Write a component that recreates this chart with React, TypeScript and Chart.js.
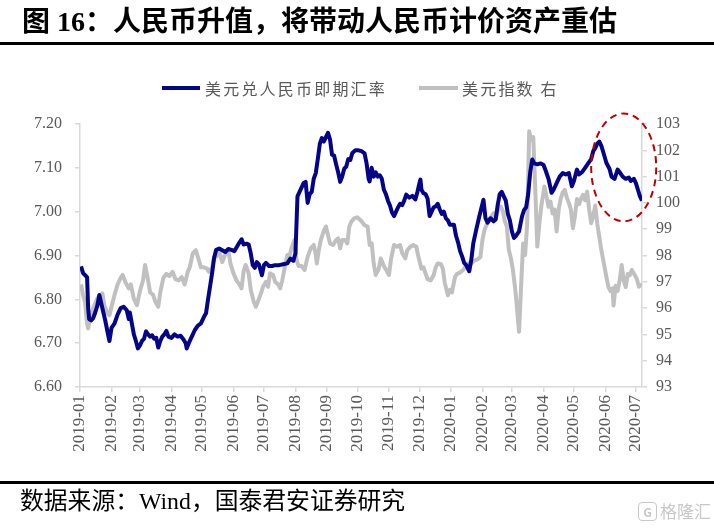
import React, { useEffect, useRef } from "react";
import { Chart, registerables } from "chart.js";

Chart.register(...registerables);

// x-axis month tick labels (axis origin = 2019-01-01)
const monthLabels = [
  "2019-01", "2019-02", "2019-03", "2019-04", "2019-05", "2019-06", "2019-07",
  "2019-08", "2019-09", "2019-10", "2019-11", "2019-12", "2020-01", "2020-02",
  "2020-03", "2020-04", "2020-05", "2020-06", "2020-07",
];
const axisEndDay = 553;

// 美元兑人民币即期汇率 : observation day (days since 2019-01-01) and value
const fxDays = [
  1, 3, 5, 7, 8, 9, 11, 13, 15, 17,
  19, 21, 23, 25, 28, 29, 31, 34, 37, 40,
  43, 46, 48, 49, 51, 53, 55, 57, 59, 61,
  63, 65, 67, 69, 71, 73, 75, 77, 79, 81,
  83, 85, 87, 90, 93, 96, 99, 102, 104, 105,
  107, 110, 113, 116, 119, 122, 124, 126, 128, 130,
  132, 134, 137, 140, 143, 146, 149, 152, 155, 157,
  159, 161, 164, 166, 168, 170, 172, 174, 176, 179,
  181, 183, 186, 189, 192, 196, 200, 204, 207, 210,
  212, 213, 214, 216, 218, 220, 222, 224, 226, 228,
  230, 232, 234, 236, 238, 240, 242, 244, 246, 248,
  250, 252, 254, 256, 258, 260, 262, 264, 266, 268,
  271, 274, 277, 280, 282, 284, 285, 287, 289, 291,
  293, 295, 297, 299, 301, 303, 305, 307, 309, 311,
  313, 315, 317, 319, 321, 324, 327, 330, 332, 334,
  335, 336, 338, 340, 342, 344, 346, 348, 350, 352,
  354, 356, 358, 360, 362, 364, 366, 368, 370, 372,
  374, 376, 378, 380, 383, 385, 387, 390, 393, 397,
  399, 401, 404, 407, 409, 411, 413, 415, 417, 419,
  421, 423, 425, 427, 429, 432, 435, 437, 439, 441,
  443, 445, 447, 450, 453, 456, 458, 461, 464, 466,
  469, 472, 475, 478, 481, 484, 486, 489, 491, 494,
  497, 500, 503, 505, 507, 509, 511, 513, 515, 518,
  521, 523, 526, 529, 531, 534, 537, 540, 542, 545,
  547, 549, 551, 553,
];
const fxRate = [
  6.875, 6.86, 6.855, 6.85, 6.78, 6.755, 6.752, 6.757, 6.77, 6.785,
  6.81, 6.79, 6.77, 6.75, 6.715, 6.705, 6.735, 6.745, 6.765, 6.78,
  6.783, 6.775, 6.755, 6.77, 6.745, 6.72, 6.705, 6.688, 6.695, 6.705,
  6.71, 6.727, 6.72, 6.715, 6.718, 6.71, 6.712, 6.69, 6.705, 6.715,
  6.72, 6.728, 6.715, 6.712, 6.72, 6.715, 6.717, 6.708, 6.7, 6.688,
  6.7, 6.715, 6.73, 6.74, 6.745, 6.76, 6.768, 6.8, 6.83, 6.86,
  6.895, 6.913, 6.916, 6.912, 6.908, 6.915, 6.913, 6.91, 6.922, 6.93,
  6.937, 6.925, 6.927, 6.925, 6.905, 6.878, 6.872, 6.885, 6.88, 6.855,
  6.878, 6.883, 6.876, 6.876, 6.878, 6.878, 6.88, 6.882, 6.893, 6.888,
  6.905, 6.97, 7.035, 7.045, 7.055, 7.065, 7.068, 7.02, 7.04, 7.045,
  7.075, 7.088, 7.12, 7.155, 7.168, 7.16, 7.17, 7.18, 7.165, 7.13,
  7.128, 7.108, 7.09, 7.068, 7.08, 7.098, 7.103, 7.12, 7.118, 7.134,
  7.14, 7.14, 7.138, 7.133, 7.11, 7.075, 7.069, 7.1, 7.08, 7.09,
  7.08, 7.083, 7.075, 7.05, 7.04, 7.025, 7.014, 6.998, 6.99, 7.0,
  7.01, 7.018, 7.015, 7.025, 7.039, 7.032, 7.036, 7.028, 7.045, 7.065,
  7.073, 7.05, 7.042, 7.04, 7.03, 6.99, 7.0, 7.01, 7.012, 7.018,
  7.005, 6.995, 7.0, 6.985, 6.98, 6.97, 6.97, 6.97, 6.945, 6.93,
  6.91, 6.898, 6.883, 6.878, 6.864, 6.89, 6.928, 6.96, 6.99, 7.027,
  6.985, 6.975, 6.985, 6.978, 6.982, 7.015, 7.04, 7.045, 7.035, 7.025,
  6.995, 6.98, 6.955, 6.94, 6.945, 6.955, 6.99, 7.004, 7.01, 7.04,
  7.09, 7.119, 7.11, 7.108, 7.11, 7.107, 7.095, 7.075, 7.043, 7.05,
  7.065, 7.08, 7.088, 7.085, 7.088, 7.058, 7.07, 7.096, 7.085, 7.09,
  7.1, 7.11, 7.12, 7.138, 7.145, 7.155, 7.16, 7.15, 7.135, 7.111,
  7.098, 7.08, 7.075, 7.096, 7.09, 7.08, 7.075, 7.078, 7.07, 7.075,
  7.065, 7.05, 7.035, 7.025,
];

// 美元指数 (right axis): observation day and value
const dxyDays = [
  1, 3, 5, 7, 8, 10, 12, 14, 17, 19,
  21, 22, 24, 27, 29, 31, 34, 37, 40, 42,
  45, 48, 50, 53, 56, 59, 62, 64, 67, 69,
  72, 74, 77, 79, 82, 85, 88, 91, 94, 97,
  100, 103, 106, 108, 111, 114, 116, 119, 122, 125,
  127, 130, 132, 134, 137, 140, 143, 146, 148, 151,
  154, 156, 159, 161, 163, 166, 168, 171, 173, 175,
  178, 180, 183, 185, 187, 190, 192, 195, 197, 199,
  201, 204, 206, 208, 211, 213, 215, 218, 221, 224,
  227, 230, 232, 233, 235, 237, 240, 242, 244, 246,
  249, 252, 254, 256, 258, 261, 263, 265, 267, 270,
  273, 277, 280, 283, 285, 287, 289, 291, 294, 296,
  299, 302, 304, 306, 309, 312, 315, 317, 320, 322,
  325, 328, 331, 333, 336, 338, 340, 342, 345, 348,
  350, 352, 355, 357, 359, 362, 364, 366, 369, 371,
  374, 377, 379, 382, 385, 388, 391, 394, 396, 398,
  401, 404, 407, 409, 412, 414, 416, 418, 420, 422,
  424, 426, 428, 429, 432, 434, 436, 438, 440, 442,
  444, 446, 448, 450, 452, 454, 457, 459, 461, 463,
  465, 467, 469, 471, 473, 475, 477, 479, 481, 483,
  485, 487, 489, 491, 493, 495, 497, 499, 501, 503,
  505, 507, 509, 511, 513, 515, 518, 520, 522, 524,
  525, 527, 529, 531, 533, 535, 537, 539, 541, 543,
  546, 548, 550, 552,
];
const dxyIndex = [
  96.9, 96.5, 96.2, 95.4, 95.23, 95.6, 95.9, 96.1, 96.37, 96.2,
  96.45, 96.56, 96.1, 95.8, 95.73, 96.05, 96.5, 96.9, 97.15, 97.26,
  96.95, 96.75, 96.9, 96.35, 96.11, 96.65, 97.05, 97.64, 97.05, 96.6,
  96.5, 96.25, 96.05, 96.6, 97.15, 97.3, 97.22, 97.38, 97.1, 97.05,
  97.18, 96.9, 97.38, 97.55, 98.08, 98.2, 97.95, 97.55, 97.55, 97.5,
  97.38, 97.55, 97.95, 97.95, 98.15, 97.75, 98.05, 98.21, 97.7, 97.32,
  97.05, 96.95, 96.75, 97.4, 97.64, 97.32, 96.7, 96.24, 96.05, 96.24,
  96.55, 96.8, 97.0, 96.81, 97.32, 97.26, 97.0, 96.9, 96.75, 97.05,
  97.45, 98.02, 97.95, 98.27, 98.59, 97.85, 97.6, 97.6, 97.45, 97.95,
  98.27, 98.4, 98.02, 97.7, 98.21, 98.59, 98.95, 99.1, 98.78, 98.46,
  98.4, 98.59, 98.65, 98.27, 98.59, 98.59, 98.46, 99.1, 99.29, 99.42,
  99.45, 99.3, 99.15, 99.1, 98.4, 98.46, 97.7, 97.26, 97.5, 97.89,
  97.6, 97.4, 97.26, 97.85, 98.4, 98.33, 98.4, 98.1, 97.89, 98.2,
  98.33, 98.4, 98.33, 97.95, 97.5, 97.55, 97.32, 97.1, 97.05, 97.26,
  97.55, 97.7, 97.68, 97.5, 96.95, 96.49, 96.7, 96.6, 97.19, 97.3,
  97.35, 97.45, 97.55, 97.7, 97.7, 97.8, 97.85, 97.94, 98.6, 98.97,
  99.25, 99.45, 99.61, 99.4, 99.8, 99.86, 99.7, 99.3, 99.1, 98.21,
  97.9, 97.45, 96.8, 96.43, 95.1, 96.8, 98.46, 98.02, 99.2, 102.72,
  102.4, 102.5, 100.5, 98.34, 99.2, 99.9, 100.62, 100.25, 99.85, 100.05,
  99.6, 99.75, 98.91, 99.75, 100.15, 100.4, 100.5, 100.2, 100.0, 99.75,
  99.04, 99.5, 100.15, 99.95, 100.15, 100.31, 100.1, 100.43, 99.75, 99.23,
  99.5, 99.9, 99.2, 98.71, 98.2, 97.8, 97.18, 96.8, 96.65, 96.75,
  96.1, 96.85, 96.65, 97.05, 97.64, 97.05, 96.8, 97.3, 97.25, 97.45,
  97.25, 97.1, 96.81, 96.95,
];

// highlighted region (red dashed ellipse): day range and right-axis range
const highlightDays = [503, 567];
const highlightDxy = [99.3, 103.4];

const NAVY = "#04048A";
const GRAY = "#C0C0C0";
const TICK_COLOR = "#595959";
const AXIS_COLOR = "#D9D9D9";

const dayOf = (label: string) => {
  const [y, m] = label.split("-").map(Number);
  return (Date.UTC(y, m - 1, 1) - Date.UTC(2019, 0, 1)) / 86400000;
};
const monthDays = monthLabels.map(dayOf);

const ellipsePlugin = {
  id: "highlightEllipse",
  afterDatasetsDraw(chart: any) {
    const { ctx, scales } = chart;
    const xs = scales.x;
    const ys = scales.y2;
    const x0 = xs.getPixelForValue(highlightDays[0]);
    const x1 = xs.getPixelForValue(highlightDays[1]);
    const yTop = ys.getPixelForValue(highlightDxy[1]);
    const yBot = ys.getPixelForValue(highlightDxy[0]);
    ctx.save();
    ctx.beginPath();
    ctx.ellipse((x0 + x1) / 2, (yTop + yBot) / 2, (x1 - x0) / 2, (yBot - yTop) / 2, 0, 0, Math.PI * 2);
    ctx.setLineDash([7, 5]);
    ctx.lineWidth = 2;
    ctx.strokeStyle = "#C00000";
    ctx.stroke();
    ctx.restore();
  },
};

const serif = '"Liberation Serif", "Noto Sans CJK SC", serif';

export default function App() {
  const canvasRef = useRef<HTMLCanvasElement | null>(null);

  useEffect(() => {
    if (!canvasRef.current) return;
    const gridCommon = {
      display: true,
      drawOnChartArea: false,
      drawTicks: true,
      tickLength: 5,
      color: AXIS_COLOR,
      lineWidth: 1.5,
    };
    const borderCommon = { display: true, color: AXIS_COLOR, width: 1.5 };
    const chart = new Chart(canvasRef.current, {
      type: "line",
      data: {
        datasets: [
          {
            label: "美元兑人民币即期汇率",
            data: fxDays.map((d, i) => ({ x: d, y: fxRate[i] })),
            borderColor: NAVY,
            backgroundColor: NAVY,
            borderWidth: 4,
            pointRadius: 0,
            tension: 0,
            borderJoinStyle: "round",
            yAxisID: "y",
          },
          {
            label: "美元指数 右",
            data: dxyDays.map((d, i) => ({ x: d, y: dxyIndex[i] })),
            borderColor: GRAY,
            backgroundColor: GRAY,
            borderWidth: 4,
            pointRadius: 0,
            tension: 0,
            borderJoinStyle: "round",
            yAxisID: "y2",
          },
        ],
      },
      options: {
        animation: false,
        responsive: false,
        devicePixelRatio: 1,
        layout: { padding: { top: 124, bottom: 71, left: 0, right: 0 } },
        plugins: { legend: { display: false }, tooltip: { enabled: false } },
        scales: {
          x: {
            type: "linear",
            position: "bottom",
            min: 0,
            max: axisEndDay,
            afterBuildTicks: (s: any) => {
              s.ticks = monthDays.map((v) => ({ value: v }));
            },
            afterFit: (s: any) => {
              s.height = 70;
            },
            ticks: {
              autoSkip: false,
              maxRotation: 90,
              minRotation: 90,
              padding: 3,
              color: TICK_COLOR,
              font: { family: serif, size: 17 },
              callback: (_v: any, i: number) => monthLabels[i],
            },
            grid: gridCommon,
            border: borderCommon,
          },
          y: {
            type: "linear",
            position: "left",
            min: 6.6,
            max: 7.2,
            afterFit: (s: any) => {
              s.width = 80;
            },
            ticks: {
              stepSize: 0.1,
              padding: 13,
              color: TICK_COLOR,
              font: { family: serif, size: 16 },
              callback: (v: any) => Number(v).toFixed(2),
            },
            grid: gridCommon,
            border: borderCommon,
          },
          y2: {
            type: "linear",
            position: "right",
            min: 93,
            max: 103,
            afterFit: (s: any) => {
              s.width = 72;
            },
            ticks: {
              stepSize: 1,
              padding: 9,
              color: TICK_COLOR,
              font: { family: serif, size: 16 },
            },
            grid: gridCommon,
            border: borderCommon,
          },
        },
      } as any,
      plugins: [ellipsePlugin],
    });
    return () => chart.destroy();
  }, []);

  const abs = (s: React.CSSProperties): React.CSSProperties => ({ position: "absolute", whiteSpace: "nowrap", ...s });

  return (
    <div style={{ position: "fixed", left: 0, top: 0, width: 714, height: 528, background: "#fff", overflow: "hidden" }}>
      <canvas ref={canvasRef} width={714} height={528} style={{ position: "absolute", left: 0, top: 0, width: 714, height: 528 }} />
      <div style={abs({ left: 22, top: 4, fontFamily: serif, fontSize: 28, fontWeight: "bold", lineHeight: "36px", color: "#000" })}>
        图 16：人民币升值，将带动人民币计价资产重估
      </div>
      <div style={abs({ left: 0, top: 42, width: 714, height: 2.5, background: "#000" })} />
      <div style={abs({ left: 162, top: 86, width: 38, height: 4, background: NAVY })} />
      <div style={abs({ left: 205, top: 77, fontFamily: '"Noto Sans CJK SC", sans-serif', fontSize: 16, letterSpacing: "2.2px", lineHeight: "22px", color: TICK_COLOR })}>
        美元兑人民币即期汇率
      </div>
      <div style={abs({ left: 419, top: 86, width: 39, height: 4, background: GRAY })} />
      <div style={abs({ left: 462, top: 77, fontFamily: '"Noto Sans CJK SC", sans-serif', fontSize: 16, letterSpacing: "2.2px", lineHeight: "22px", color: TICK_COLOR })}>
        美元指数 右
      </div>
      <div style={abs({ left: 0, top: 481, width: 714, height: 2.5, background: "#000" })} />
      <div style={abs({ left: 20, top: 487, fontFamily: serif, fontSize: 23.8, lineHeight: "28px", color: "#000" })}>
        数据来源：Wind，国泰君安证券研究
      </div>
      <div style={abs({ left: 638, top: 501, display: "flex", alignItems: "center", color: "#C8C8C8", fontFamily: '"Noto Sans CJK SC", sans-serif', fontSize: 17, lineHeight: "20px" })}>
        <span style={{ display: "inline-block", width: 17, height: 17, border: "1.5px solid #C8C8C8", borderRadius: 4, fontSize: 12, lineHeight: "17px", textAlign: "center", marginRight: 3, fontWeight: "bold" }}>G</span>
        <span>格隆汇</span>
      </div>
    </div>
  );
}
